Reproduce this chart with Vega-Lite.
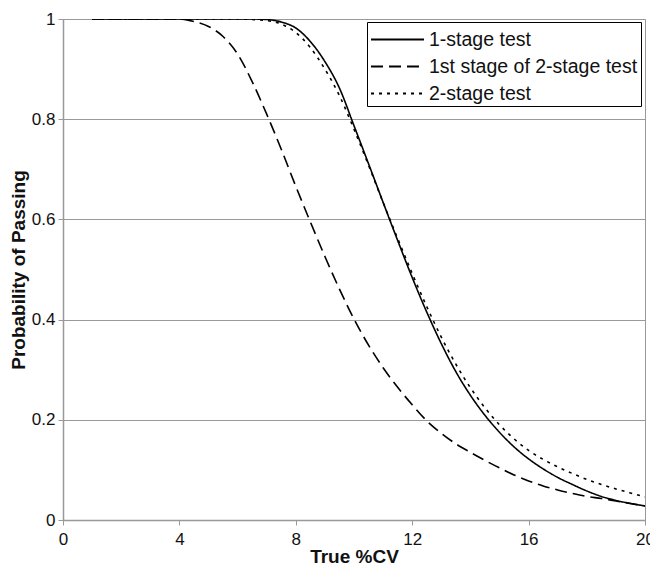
{
  "$schema": "https://vega.github.io/schema/vega-lite/v6.json",
  "width": 582,
  "height": 501,
  "autosize": "none",
  "padding": {"left": 63, "top": 19, "right": 5, "bottom": 47},
  "background": "white",
  "config": {
    "font": "Liberation Sans",
    "view": {"stroke": "#999999", "strokeWidth": 1},
    "axis": {
      "labelFont": "Liberation Sans",
      "titleFont": "Liberation Sans",
      "labelFontSize": 17,
      "titleFontSize": 19,
      "labelColor": "#111111",
      "titleColor": "#111111",
      "domainColor": "#999999",
      "tickColor": "#999999",
      "gridColor": "#999999",
      "gridOpacity": 1,
      "domainWidth": 1.5,
      "tickSize": 5,
      "labelFlush": false,
      "labelOverlap": false
    }
  },
  "data": {
    "values": [
      {"x": 1, "series": "1-stage test", "p": 1},
      {"x": 2, "series": "1-stage test", "p": 1},
      {"x": 3, "series": "1-stage test", "p": 1},
      {"x": 4, "series": "1-stage test", "p": 1},
      {"x": 5, "series": "1-stage test", "p": 1},
      {"x": 6, "series": "1-stage test", "p": 1},
      {"x": 6.5, "series": "1-stage test", "p": 1},
      {"x": 7, "series": "1-stage test", "p": 0.999},
      {"x": 7.5, "series": "1-stage test", "p": 0.994},
      {"x": 8, "series": "1-stage test", "p": 0.982},
      {"x": 8.5, "series": "1-stage test", "p": 0.955},
      {"x": 9, "series": "1-stage test", "p": 0.915},
      {"x": 9.5, "series": "1-stage test", "p": 0.862},
      {"x": 10, "series": "1-stage test", "p": 0.787},
      {"x": 10.5, "series": "1-stage test", "p": 0.711},
      {"x": 11, "series": "1-stage test", "p": 0.634},
      {"x": 11.5, "series": "1-stage test", "p": 0.558},
      {"x": 12, "series": "1-stage test", "p": 0.484},
      {"x": 12.5, "series": "1-stage test", "p": 0.415},
      {"x": 13, "series": "1-stage test", "p": 0.352},
      {"x": 13.5, "series": "1-stage test", "p": 0.296},
      {"x": 14, "series": "1-stage test", "p": 0.249},
      {"x": 14.5, "series": "1-stage test", "p": 0.209},
      {"x": 15, "series": "1-stage test", "p": 0.175},
      {"x": 15.5, "series": "1-stage test", "p": 0.146},
      {"x": 16, "series": "1-stage test", "p": 0.122},
      {"x": 16.5, "series": "1-stage test", "p": 0.102},
      {"x": 17, "series": "1-stage test", "p": 0.085},
      {"x": 17.5, "series": "1-stage test", "p": 0.071},
      {"x": 18, "series": "1-stage test", "p": 0.058},
      {"x": 18.5, "series": "1-stage test", "p": 0.047},
      {"x": 19, "series": "1-stage test", "p": 0.039},
      {"x": 19.5, "series": "1-stage test", "p": 0.033},
      {"x": 20, "series": "1-stage test", "p": 0.028},

      {"x": 1, "series": "1st stage of 2-stage test", "p": 1},
      {"x": 2, "series": "1st stage of 2-stage test", "p": 1},
      {"x": 3, "series": "1st stage of 2-stage test", "p": 1},
      {"x": 4, "series": "1st stage of 2-stage test", "p": 1},
      {"x": 4.5, "series": "1st stage of 2-stage test", "p": 0.995},
      {"x": 5, "series": "1st stage of 2-stage test", "p": 0.985},
      {"x": 5.5, "series": "1st stage of 2-stage test", "p": 0.965},
      {"x": 6, "series": "1st stage of 2-stage test", "p": 0.93},
      {"x": 6.5, "series": "1st stage of 2-stage test", "p": 0.875},
      {"x": 7, "series": "1st stage of 2-stage test", "p": 0.81},
      {"x": 7.5, "series": "1st stage of 2-stage test", "p": 0.74},
      {"x": 8, "series": "1st stage of 2-stage test", "p": 0.666},
      {"x": 8.5, "series": "1st stage of 2-stage test", "p": 0.595},
      {"x": 9, "series": "1st stage of 2-stage test", "p": 0.526},
      {"x": 9.5, "series": "1st stage of 2-stage test", "p": 0.461},
      {"x": 10, "series": "1st stage of 2-stage test", "p": 0.401},
      {"x": 10.5, "series": "1st stage of 2-stage test", "p": 0.349},
      {"x": 11, "series": "1st stage of 2-stage test", "p": 0.304},
      {"x": 11.5, "series": "1st stage of 2-stage test", "p": 0.265},
      {"x": 12, "series": "1st stage of 2-stage test", "p": 0.23},
      {"x": 12.5, "series": "1st stage of 2-stage test", "p": 0.198},
      {"x": 13, "series": "1st stage of 2-stage test", "p": 0.173},
      {"x": 13.5, "series": "1st stage of 2-stage test", "p": 0.152},
      {"x": 14, "series": "1st stage of 2-stage test", "p": 0.135},
      {"x": 14.5, "series": "1st stage of 2-stage test", "p": 0.119},
      {"x": 15, "series": "1st stage of 2-stage test", "p": 0.104},
      {"x": 15.5, "series": "1st stage of 2-stage test", "p": 0.09},
      {"x": 16, "series": "1st stage of 2-stage test", "p": 0.078},
      {"x": 16.5, "series": "1st stage of 2-stage test", "p": 0.068},
      {"x": 17, "series": "1st stage of 2-stage test", "p": 0.06},
      {"x": 17.5, "series": "1st stage of 2-stage test", "p": 0.053},
      {"x": 18, "series": "1st stage of 2-stage test", "p": 0.047},
      {"x": 18.5, "series": "1st stage of 2-stage test", "p": 0.043},
      {"x": 19, "series": "1st stage of 2-stage test", "p": 0.038},
      {"x": 19.5, "series": "1st stage of 2-stage test", "p": 0.033},
      {"x": 20, "series": "1st stage of 2-stage test", "p": 0.028},

      {"x": 1, "series": "2-stage test", "p": 1},
      {"x": 2, "series": "2-stage test", "p": 1},
      {"x": 3, "series": "2-stage test", "p": 1},
      {"x": 4, "series": "2-stage test", "p": 1},
      {"x": 5, "series": "2-stage test", "p": 1},
      {"x": 6, "series": "2-stage test", "p": 1},
      {"x": 6.5, "series": "2-stage test", "p": 0.999},
      {"x": 7, "series": "2-stage test", "p": 0.997},
      {"x": 7.5, "series": "2-stage test", "p": 0.99},
      {"x": 8, "series": "2-stage test", "p": 0.973},
      {"x": 8.5, "series": "2-stage test", "p": 0.943},
      {"x": 9, "series": "2-stage test", "p": 0.9},
      {"x": 9.5, "series": "2-stage test", "p": 0.847},
      {"x": 10, "series": "2-stage test", "p": 0.78},
      {"x": 10.5, "series": "2-stage test", "p": 0.708},
      {"x": 11, "series": "2-stage test", "p": 0.634},
      {"x": 11.5, "series": "2-stage test", "p": 0.562},
      {"x": 12, "series": "2-stage test", "p": 0.492},
      {"x": 12.5, "series": "2-stage test", "p": 0.426},
      {"x": 13, "series": "2-stage test", "p": 0.365},
      {"x": 13.5, "series": "2-stage test", "p": 0.311},
      {"x": 14, "series": "2-stage test", "p": 0.264},
      {"x": 14.5, "series": "2-stage test", "p": 0.224},
      {"x": 15, "series": "2-stage test", "p": 0.19},
      {"x": 15.5, "series": "2-stage test", "p": 0.162},
      {"x": 16, "series": "2-stage test", "p": 0.139},
      {"x": 16.5, "series": "2-stage test", "p": 0.121},
      {"x": 17, "series": "2-stage test", "p": 0.106},
      {"x": 17.5, "series": "2-stage test", "p": 0.093},
      {"x": 18, "series": "2-stage test", "p": 0.081},
      {"x": 18.5, "series": "2-stage test", "p": 0.071},
      {"x": 19, "series": "2-stage test", "p": 0.062},
      {"x": 19.5, "series": "2-stage test", "p": 0.054},
      {"x": 20, "series": "2-stage test", "p": 0.046}
    ]
  },
  "mark": {"type": "line", "color": "black", "strokeWidth": 1.6, "interpolate": "monotone", "clip": true},
  "encoding": {
    "x": {
      "field": "x",
      "type": "quantitative",
      "scale": {"domain": [0, 20], "nice": false},
      "axis": {
        "values": [0, 4, 8, 12, 16, 20],
        "grid": false,
        "title": "True %CV",
        "titleFontWeight": "bold",
        "titlePadding": 0,
        "labelPadding": 6
      }
    },
    "y": {
      "field": "p",
      "type": "quantitative",
      "scale": {"domain": [0, 1], "nice": false},
      "axis": {
        "values": [0, 0.2, 0.4, 0.6, 0.8, 1],
        "format": "~g",
        "grid": true,
        "title": "Probability of Passing",
        "titleFontWeight": "bold",
        "titlePadding": 3,
        "labelPadding": 3
      }
    },
    "strokeDash": {
      "field": "series",
      "type": "nominal",
      "scale": {
        "domain": ["1-stage test", "1st stage of 2-stage test", "2-stage test"],
        "range": [[1, 0], [12, 6], [3, 5]]
      },
      "legend": {
        "title": null,
        "orient": "none",
        "legendX": 304,
        "legendY": 3,
        "symbolType": "M-2,0L2,0",
        "symbolSize": 702,
        "symbolStrokeWidth": 2,
        "symbolStrokeColor": "black",
        "symbolOffset": 13,
        "labelFont": "Liberation Sans",
        "labelFontSize": 19.5,
        "labelColor": "#111111",
        "labelOffset": 17,
        "strokeColor": "black",
        "fillColor": "white",
        "padding": 3,
        "rowPadding": 3,
        "labelLimit": 300
      }
    }
  }
}
